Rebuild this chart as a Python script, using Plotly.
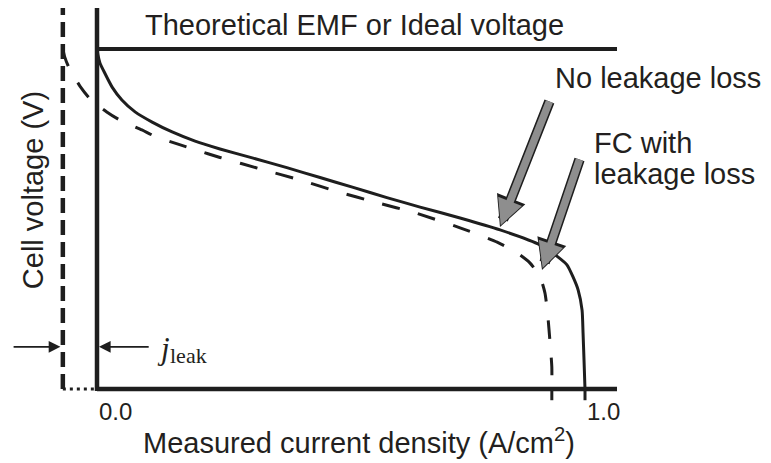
import plotly.graph_objects as go

# ---- data ----
j_no_leak = [0.0, 0.002, 0.006, 0.016, 0.031, 0.051, 0.078, 0.113, 0.154, 0.201, 0.252,
             0.320, 0.389, 0.457, 0.525, 0.594, 0.662, 0.744, 0.826, 0.908, 0.943, 0.963,
             0.975, 0.986, 0.994, 0.996, 0.998, 1.0]
v_no_leak = [1.0, 0.982, 0.959, 0.929, 0.888, 0.850, 0.815, 0.785, 0.756, 0.729, 0.706,
             0.679, 0.651, 0.622, 0.593, 0.563, 0.535, 0.503, 0.468, 0.424, 0.390, 0.365,
             0.331, 0.291, 0.232, 0.165, 0.085, 0.0]

j_leak_curve = [-0.070, -0.066, -0.059, -0.049, -0.035, -0.014, 0.020, 0.047, 0.092, 0.119,
                0.166, 0.201, 0.252, 0.338, 0.416, 0.494, 0.574, 0.652, 0.744, 0.820, 0.861,
                0.887, 0.908, 0.918, 0.924, 0.928, 0.932, 0.932]
v_leak_curve = [1.0, 0.976, 0.950, 0.924, 0.891, 0.853, 0.815, 0.791, 0.762, 0.743,
                0.720, 0.704, 0.681, 0.646, 0.615, 0.580, 0.548, 0.518, 0.474, 0.432, 0.400,
                0.371, 0.329, 0.282, 0.212, 0.144, 0.065, 0.0]

j_leak = 0.07          # leakage current density offset
emf = 1.0              # theoretical EMF (normalised)
j_max = 1.0            # limiting current, no leakage
j_max_leak = 0.932     # limiting current, with leakage
tick_vals = [0.0, 1.0]
tick_labels = ["0.0", "1.0"]

# ---- styling ----
INK = "#1e1e1e"
TXT = "#231f20"
GRAY = "#8e8e8e"
FONT = "Liberation Sans, Arial, sans-serif"
X_END = 1.0656
Y_TOP = 1.1294

fig = go.Figure()

fig.add_trace(go.Scatter(x=j_no_leak, y=v_no_leak, mode="lines",
                         line=dict(color=INK, width=3, shape="spline", smoothing=0.6),
                         hoverinfo="skip", showlegend=False))
fig.add_trace(go.Scatter(x=j_leak_curve, y=v_leak_curve, mode="lines",
                         line=dict(color=INK, width=3, dash="18px,19px", shape="spline", smoothing=0.6),
                         hoverinfo="skip", showlegend=False))

shapes = [
    # y axis (measured)
    dict(type="line", x0=0, x1=0, y0=-0.006, y1=Y_TOP, line=dict(color=INK, width=4.5)),
    # x axis
    dict(type="line", x0=0, x1=X_END, y0=0, y1=0, line=dict(color=INK, width=4.5)),
    # EMF line
    dict(type="line", x0=0, x1=X_END, y0=emf, y1=emf, line=dict(color=INK, width=4)),
    # shifted (true) zero-current axis
    dict(type="line", x0=-j_leak, x1=-j_leak, y0=0, y1=Y_TOP,
         line=dict(color=INK, width=4.5, dash="15px,7px")),
    dict(type="line", x0=-j_leak, x1=0, y0=0, y1=0,
         line=dict(color=INK, width=3, dash="3px,4px")),
    # ticks at limiting currents
    dict(type="line", x0=j_max_leak, x1=j_max_leak, y0=0, y1=-0.033, line=dict(color=INK, width=3)),
    dict(type="line", x0=j_max, x1=j_max, y0=0, y1=-0.033, line=dict(color=INK, width=3)),
]

ann = []
big = dict(family=FONT, size=29, color=TXT)

ann.append(dict(x=0.527, y=1.072, text="Theoretical EMF or Ideal voltage", showarrow=False,
                xanchor="center", yanchor="middle", font=big))
ann.append(dict(x=0.537, y=-0.152, text="Measured current density (A/cm<sup>2</sup>)",
                showarrow=False, xanchor="center", yanchor="middle", font=big))
ann.append(dict(x=-0.131, y=0.585, text="Cell voltage (V)", textangle=-90, showarrow=False,
                xanchor="center", yanchor="middle", font=big))
ann.append(dict(x=0.935, y=0.916, text="No leakage loss", showarrow=False,
                xanchor="left", yanchor="middle", font=big))
ann.append(dict(x=1.014, y=0.724, text="FC with", showarrow=False,
                xanchor="left", yanchor="middle", font=big))
ann.append(dict(x=1.014, y=0.632, text="leakage loss", showarrow=False,
                xanchor="left", yanchor="middle", font=big))

for tv, tl in zip(tick_vals, tick_labels):
    ann.append(dict(x=tv, y=-0.065, text=tl, showarrow=False, xshift=18,
                    xanchor="center", yanchor="middle",
                    font=dict(family=FONT, size=24, color=TXT)))

# j_leak label
ann.append(dict(x=0.119, y=0.12, text="<i>j</i>", showarrow=False, xanchor="left",
                yanchor="middle", font=dict(family="Liberation Serif, Times New Roman, serif",
                                            size=31, color=TXT)))
ann.append(dict(x=0.146, y=0.098, text="leak", showarrow=False, xanchor="left",
                yanchor="middle", font=dict(family="Liberation Serif, Times New Roman, serif",
                                            size=22, color=TXT)))
# j_leak arrows
ann.append(dict(x=-0.075, y=0.124, ax=-0.174, ay=0.124, axref="x", ayref="y", text="",
                showarrow=True, arrowhead=2, arrowsize=1.3, arrowwidth=1.8, arrowcolor=INK))
ann.append(dict(x=0.004, y=0.124, ax=0.109, ay=0.124, axref="x", ayref="y", text="",
                showarrow=True, arrowhead=2, arrowsize=1.3, arrowwidth=1.8, arrowcolor=INK))

# gray block arrows (outline + fill)
for (tx, ty, sx, sy) in [(0.8258, 0.4765, 0.9283, 0.850), (0.9119, 0.350, 0.9898, 0.6794)]:
    ann.append(dict(x=tx, y=ty, ax=sx, ay=sy, axref="x", ayref="y", text="",
                    showarrow=True, arrowhead=2, arrowsize=0.58, arrowwidth=10.5, arrowcolor=INK))
    ann.append(dict(x=tx, y=ty, ax=sx, ay=sy, axref="x", ayref="y", text="", standoff=2,
                    showarrow=True, arrowhead=2, arrowsize=0.68, arrowwidth=7.5, arrowcolor=GRAY))

# the page body adds an 8px offset; ranges compensate so the chart sits as in the reference
fig.update_layout(
    width=771, height=463, autosize=False,
    margin=dict(l=0, r=0, t=0, b=0),
    paper_bgcolor="white", plot_bgcolor="white",
    xaxis=dict(range=[-0.18238, 1.39754], visible=False, fixedrange=True),
    yaxis=dict(range=[-0.24118, 1.12059], visible=False, fixedrange=True),
    shapes=shapes, annotations=ann, showlegend=False,
)

fig.write_html("out.html")
